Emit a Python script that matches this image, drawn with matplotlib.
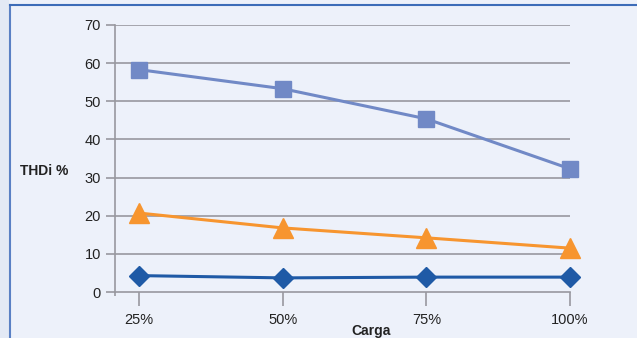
import matplotlib.pyplot as plt
from matplotlib.patches import Rectangle
from matplotlib.lines import Line2D

plt.rcParams['font.family'] = ['Liberation Sans', 'DejaVu Sans']

# data
cargas = ['25%', '50%', '75%', '100%']
serie_cuadrado = [58.3, 53.3, 45.4, 32.3]
serie_triangulo = [20.7, 16.8, 14.2, 11.5]
serie_rombo = [4.3, 3.7, 3.9, 3.9]
y_ticks = [0, 10, 20, 30, 40, 50, 60, 70]

bg_in = '#edf1fa'
bg_out = '#e3e9f5'
grid_c = '#98989f'

fig = plt.figure(figsize=(6.37, 3.38), dpi=100)
fig.patch.set_facecolor(bg_in)

# outer strip + blue frame lines
fig.patches.append(Rectangle((0, 0), 9 / 637, 1, transform=fig.transFigure,
                             facecolor=bg_out, edgecolor='none', zorder=0))
fig.lines.append(Line2D([9.5 / 637, 9.5 / 637], [0, 1 - 5 / 338], transform=fig.transFigure,
                        color='#5a80c4', lw=1.5))
fig.lines.append(Line2D([9.5 / 637, 1], [1 - 5 / 338, 1 - 5 / 338], transform=fig.transFigure,
                        color='#3d6cb8', lw=1.5))

ax = fig.add_axes([115 / 637, 1 - 292 / 338, (570 - 115) / 637, (292 - 25) / 338])
ax.set_facecolor(bg_in)

x = list(range(len(cargas)))
ax.plot(x, serie_cuadrado, color='#7189c6', lw=2.2, marker='s', ms=11, zorder=3, clip_on=False)
ax.plot(x, serie_triangulo, color='#f7952f', lw=2.2, marker='^', ms=14, zorder=3, clip_on=False)
ax.plot(x, serie_rombo, color='#1f5aa6', lw=2.2, marker='D', ms=10, zorder=3, clip_on=False)

ax.set_xlim(-0.167, 3.0)
ax.set_ylim(0, 70)

ax.set_yticks(y_ticks)
ax.set_yticklabels([str(v) for v in y_ticks], fontsize=10.5, color='#222222')
ax.set_xticks(x)
ax.set_xticklabels(cargas, fontsize=10.5, color='#222222')
ax.set_xticks([-0.167], minor=True)

for v in y_ticks[1:]:
    ax.axhline(v, color=grid_c, lw=1.2, zorder=1)

for s in ['top', 'right']:
    ax.spines[s].set_visible(False)
for s in ['left', 'bottom']:
    ax.spines[s].set_color(grid_c)
    ax.spines[s].set_linewidth(1.2)

ax.tick_params(axis='y', length=6.5, width=1.2, color=grid_c, pad=3.5)
ax.tick_params(axis='x', which='major', length=10, width=1.2, color=grid_c, pad=5)
ax.tick_params(axis='x', which='minor', length=3, width=1.2, color=grid_c)

fig.text(44 / 637, 1 - 171 / 338, 'THDi %', fontsize=10, fontweight='bold',
         color='#222222', ha='center', va='center')
fig.text(371 / 637, 1 - 331 / 338, 'Carga', fontsize=10, fontweight='bold',
         color='#222222', ha='center', va='center')

plt.savefig('out.png', dpi=100, facecolor=fig.get_facecolor())
